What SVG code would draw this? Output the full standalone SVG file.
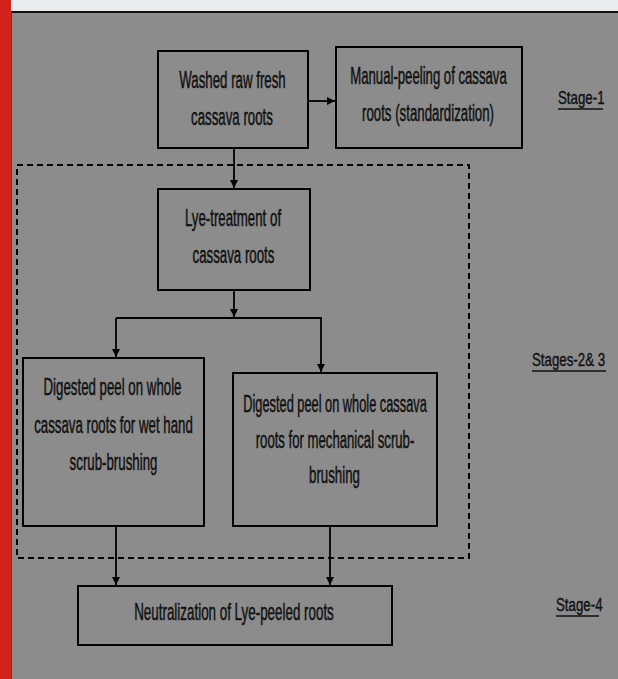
<svg xmlns="http://www.w3.org/2000/svg" width="618" height="679" viewBox="0 0 618 679">
<defs>
<marker id="ah" markerWidth="10" markerHeight="10" refX="9" refY="5" orient="auto" markerUnits="userSpaceOnUse">
<path d="M1,1 L9,5 L1,9 Z" fill="#000"/>
</marker>
<style>
.bg{fill:#8c8c8c}
.box{fill:none;stroke:#000;stroke-width:2}
.t{font-family:"Liberation Sans",Arial,sans-serif;font-size:23.5px;fill:#111;stroke:#111;stroke-width:0.5;text-anchor:middle}
.s{font-family:"Liberation Sans",Arial,sans-serif;font-size:19px;fill:#111;stroke:#111;stroke-width:0.4}
.u{stroke:#111;stroke-width:1.5}
.c{fill:none;stroke:#000;stroke-width:1.8}
.dash{fill:none;stroke:#000;stroke-width:2;stroke-dasharray:6,4}
</style>
</defs>
<rect class="bg" x="0" y="0" width="618" height="679"/>
<rect x="0" y="0" width="618" height="11" fill="#e8ecef"/>
<rect x="11" y="11" width="607" height="2" fill="#111"/>
<rect x="0" y="0" width="11" height="679" fill="#d4231a"/>
<rect x="11" y="11" width="1" height="668" fill="#444"/>

<rect id="stage23-frame" class="dash" x="17" y="165" width="452" height="393"/>

<g id="connectors">
<line class="c" x1="308" y1="101" x2="335" y2="101" marker-end="url(#ah)"/>
<line class="c" x1="234" y1="148" x2="234" y2="188" marker-end="url(#ah)"/>
<line class="c" x1="234" y1="290" x2="234" y2="317" marker-end="url(#ah)"/>
<polyline class="c" points="116,318 321,318 321,372" marker-end="url(#ah)"/>
<line class="c" x1="116" y1="318" x2="116" y2="357" marker-end="url(#ah)"/>
<line class="c" x1="116" y1="526" x2="116" y2="585" marker-end="url(#ah)"/>
<line class="c" x1="330" y1="526" x2="330" y2="585" marker-end="url(#ah)"/>
</g>

<g id="n1">
<rect class="box" x="158" y="51" width="150" height="97"/>
<text class="t" transform="translate(232.5,88) scale(0.565,1)">Washed raw fresh</text>
<text class="t" transform="translate(232,125) scale(0.565,1)">cassava roots</text>
</g>
<g id="n2">
<rect class="box" x="336" y="47" width="186" height="101"/>
<text class="t" transform="translate(428.5,84) scale(0.56,1)">Manual-peeling of cassava</text>
<text class="t" transform="translate(428,121) scale(0.565,1)">roots (standardization)</text>
</g>
<g id="n3">
<rect class="box" x="158" y="189" width="152" height="101"/>
<text class="t" transform="translate(233,226) scale(0.565,1)">Lye-treatment of</text>
<text class="t" transform="translate(233.5,263) scale(0.565,1)">cassava roots</text>
</g>
<g id="n4">
<rect class="box" x="23" y="358" width="181" height="168"/>
<text class="t" transform="translate(112.5,395) scale(0.565,1)">Digested peel on whole</text>
<text class="t" transform="translate(113.5,433) scale(0.565,1)">cassava roots for wet hand</text>
<text class="t" transform="translate(113.5,470) scale(0.565,1)">scrub-brushing</text>
</g>
<g id="n5">
<rect class="box" x="233" y="373" width="204" height="153"/>
<text class="t" transform="translate(335,412) scale(0.545,1)">Digested peel on whole cassava</text>
<text class="t" transform="translate(335,448) scale(0.56,1)">roots for mechanical scrub-</text>
<text class="t" transform="translate(334.5,483) scale(0.565,1)">brushing</text>
</g>
<g id="n6">
<rect class="box" x="78" y="586" width="314" height="59"/>
<text class="t" transform="translate(234,620) scale(0.57,1)">Neutralization of Lye-peeled roots</text>
</g>

<g id="stage1">
<text class="s" transform="translate(558,104) scale(0.7,1)">Stage-1</text>
<line class="u" x1="558" y1="109" x2="603" y2="109"/>
</g>
<g id="stage23">
<text class="s" transform="translate(532,366) scale(0.7,1)">Stages-2&amp; 3</text>
<line class="u" x1="532" y1="371" x2="606" y2="371"/>
</g>
<g id="stage4">
<text class="s" transform="translate(556,611) scale(0.7,1)">Stage-4</text>
<line class="u" x1="556" y1="616" x2="599" y2="616"/>
</g>
</svg>
